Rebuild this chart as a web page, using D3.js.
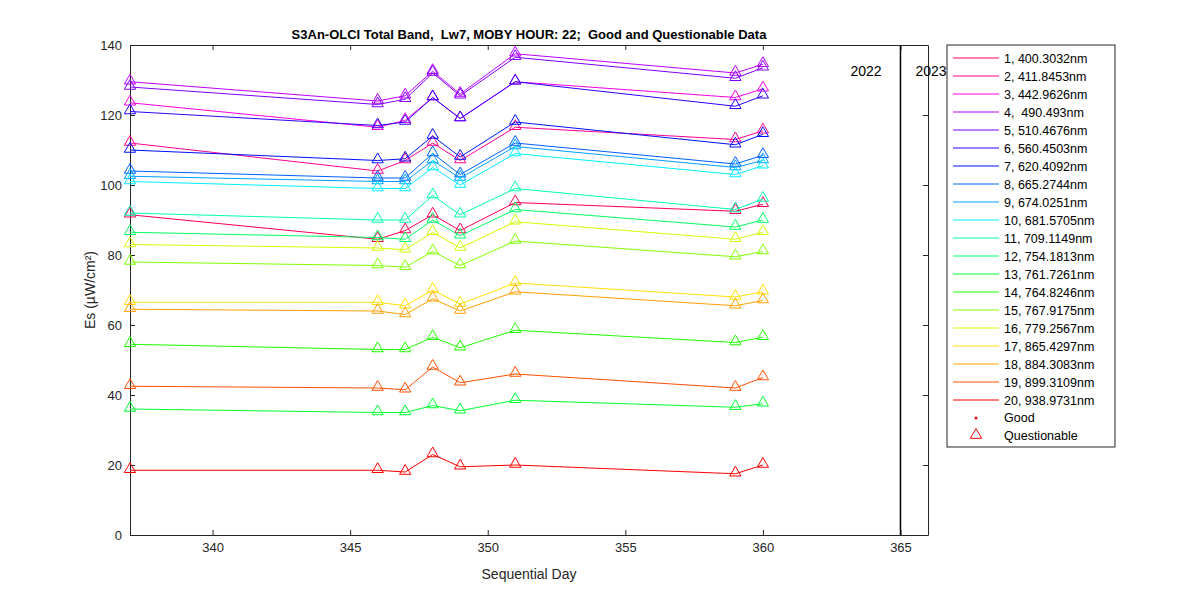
<!DOCTYPE html>
<html><head><meta charset="utf-8">
<script src="https://d3js.org/d3.v7.min.js"></script>
<style>body{margin:0;background:#fff}text{font-family:"Liberation Sans",Arial,sans-serif;white-space:pre}</style>
</head><body><svg id="c" width="1200" height="600"></svg>
<script>
const days = [337,346,347,348,349,351,359,360];
const bandLabels = ["1, 400.3032nm","2, 411.8453nm","3, 442.9626nm","4,  490.493nm","5, 510.4676nm","6, 560.4503nm","7, 620.4092nm","8, 665.2744nm","9, 674.0251nm","10, 681.5705nm","11, 709.1149nm","12, 754.1813nm","13, 761.7261nm","14, 764.8246nm","15, 767.9175nm","16, 779.2567nm","17, 865.4297nm","18, 884.3083nm","19, 899.3109nm","20, 938.9731nm"];
const bandColors = ["#ff0050","#ff0090","#ff00e0","#c000ff","#8000ff","#3000ff","#0010ff","#0060ff","#00a0ff","#00f0ff","#00ffb0","#00ff60","#00ff30","#20ff00","#80ff00","#d0ff00","#ffe000","#ffa000","#ff5000","#ff0000"];
const s1 =[91.5,84.5,87,91.5,87,95,92.5,94.5];
const s2 =[112,104,107,112,107,116.5,113,115.5];
const s3 =[123.5,116.5,118.5,125,119,129.5,125,127.5];
const s4 =[129.5,124,125.5,132.5,126,137.5,132,134.5];
const s5 =[128,123,124.5,132,125.5,136.5,130.5,133.5];
const s6 =[121,117,118,125,119,129.5,122.5,125.5];
const s7 =[110,107,107.5,114,108,118,111.5,114.5];
const s8 =[104,102,102,109,103,112,106,108.5];
const s9 =[102.5,101,101,107,102,111,105,107];
const s10=[101,99,99,105,100,109,103,105.5];
const s11=[92,90,90,97,91.5,99,93,96];
const s12=[86.5,85,84.5,90,85.5,93,88,90];
const s13=[36,35,35,37,35.5,38.5,36.5,37.5];
const s14=[54.5,53,53,56.5,53.5,58.5,55,56.5];
const s15=[78,77,76.5,81,77,84,79.5,81];
const s16=[83,82,81.5,86.5,82,89.5,84.5,86.5];
const s17=[66.5,66.5,65.5,70,66,72,68,69.5];
const s18=[64.5,64,63,67.5,64,69.5,65.5,67];
const s19=[42.5,42,41.5,48,43.5,46,42,45];
const s20=[18.5,18.5,18,23,19.5,20,17.5,20];
const series=[s1,s2,s3,s4,s5,s6,s7,s8,s9,s10,s11,s12,s13,s14,s15,s16,s17,s18,s19,s20];
const xTicks=[340,345,350,355,360,365];
const yTicks=[0,20,40,60,80,100,120,140];

const svg=d3.select("#c");
const L=130,R=928,T=45,B=535;
const x=d3.scaleLinear().domain([337,366]).range([L,R]);
const y=d3.scaleLinear().domain([0,140]).range([B,T]);
const g=svg.append("g");
g.append("rect").attr("x",L).attr("y",T).attr("width",R-L).attr("height",B-T).attr("fill","#fff");
const xa=g.append("g").attr("transform",`translate(0,${B})`).call(d3.axisBottom(x).tickValues(xTicks).tickSize(-5).tickSizeOuter(0).tickPadding(8));
const xt=g.append("g").attr("transform",`translate(0,${T})`).call(d3.axisTop(x).tickValues(xTicks).tickSize(-5).tickSizeOuter(0).tickFormat(""));
const ya=g.append("g").attr("transform",`translate(${L},0)`).call(d3.axisLeft(y).tickValues(yTicks).tickSize(-5).tickSizeOuter(0).tickPadding(8));
const yr=g.append("g").attr("transform",`translate(${R},0)`).call(d3.axisRight(y).tickValues(yTicks).tickSize(-5).tickSizeOuter(0).tickFormat(""));
[xa,xt,ya,yr].forEach(a=>{a.selectAll("path,line").attr("stroke","#262626");a.selectAll("text").attr("font-size",13).attr("fill","#262626");});
const line=d3.line().x((d,i)=>x(days[i])).y(d=>y(d));
const tri=d3.symbol().type(d3.symbolTriangle).size(55);
series.forEach((s,k)=>{
  g.append("path").attr("d",line(s)).attr("fill","none").attr("stroke",bandColors[k]).attr("stroke-width",1);
  g.selectAll(null).data(s).enter().append("path").attr("d",tri)
   .attr("transform",(d,i)=>`translate(${x(days[i])},${y(d)-1})`).attr("fill","none").attr("stroke",bandColors[k]);
});
g.append("line").attr("x1",x(365)).attr("x2",x(365)).attr("y1",T).attr("y2",B).attr("stroke","#000").attr("stroke-width",1.5);
g.append("text").attr("x",x(365)-50).attr("y",76).attr("font-size",14).text("2022");
g.append("text").attr("x",x(365)+15).attr("y",76).attr("font-size",14).text("2023");
g.append("text").attr("x",(L+R)/2).attr("y",39).attr("text-anchor","middle").attr("font-size",13).attr("font-weight","bold").text("S3An-OLCI Total Band,  Lw7, MOBY HOUR: 22;  Good and Questionable Data");
g.append("text").attr("x",(L+R)/2).attr("y",579).attr("text-anchor","middle").attr("font-size",14).attr("fill","#262626").text("Sequential Day");
g.append("text").attr("transform",`translate(95,${(T+B)/2}) rotate(-90)`).attr("text-anchor","middle").attr("font-size",14).attr("fill","#262626").text("Es (µW/cm²)");
const lg=svg.append("g");
lg.append("rect").attr("x",947).attr("y",45).attr("width",168).attr("height",402).attr("fill","#fff").attr("stroke","#262626");
bandLabels.forEach((t,k)=>{
  const yy=58+k*18;
  lg.append("line").attr("x1",953).attr("x2",999).attr("y1",yy).attr("y2",yy).attr("stroke",bandColors[k]);
  lg.append("text").attr("x",1004).attr("y",yy+4.5).attr("font-size",12.5).text(t);
});
lg.append("circle").attr("cx",976).attr("cy",418).attr("r",1.5).attr("fill","#ff0000");
lg.append("text").attr("x",1004).attr("y",422).attr("font-size",12.5).text("Good");
lg.append("path").attr("d",tri).attr("transform","translate(976,435)").attr("fill","none").attr("stroke","#ff0000");
lg.append("text").attr("x",1004).attr("y",440).attr("font-size",12.5).text("Questionable");
</script></body></html>
